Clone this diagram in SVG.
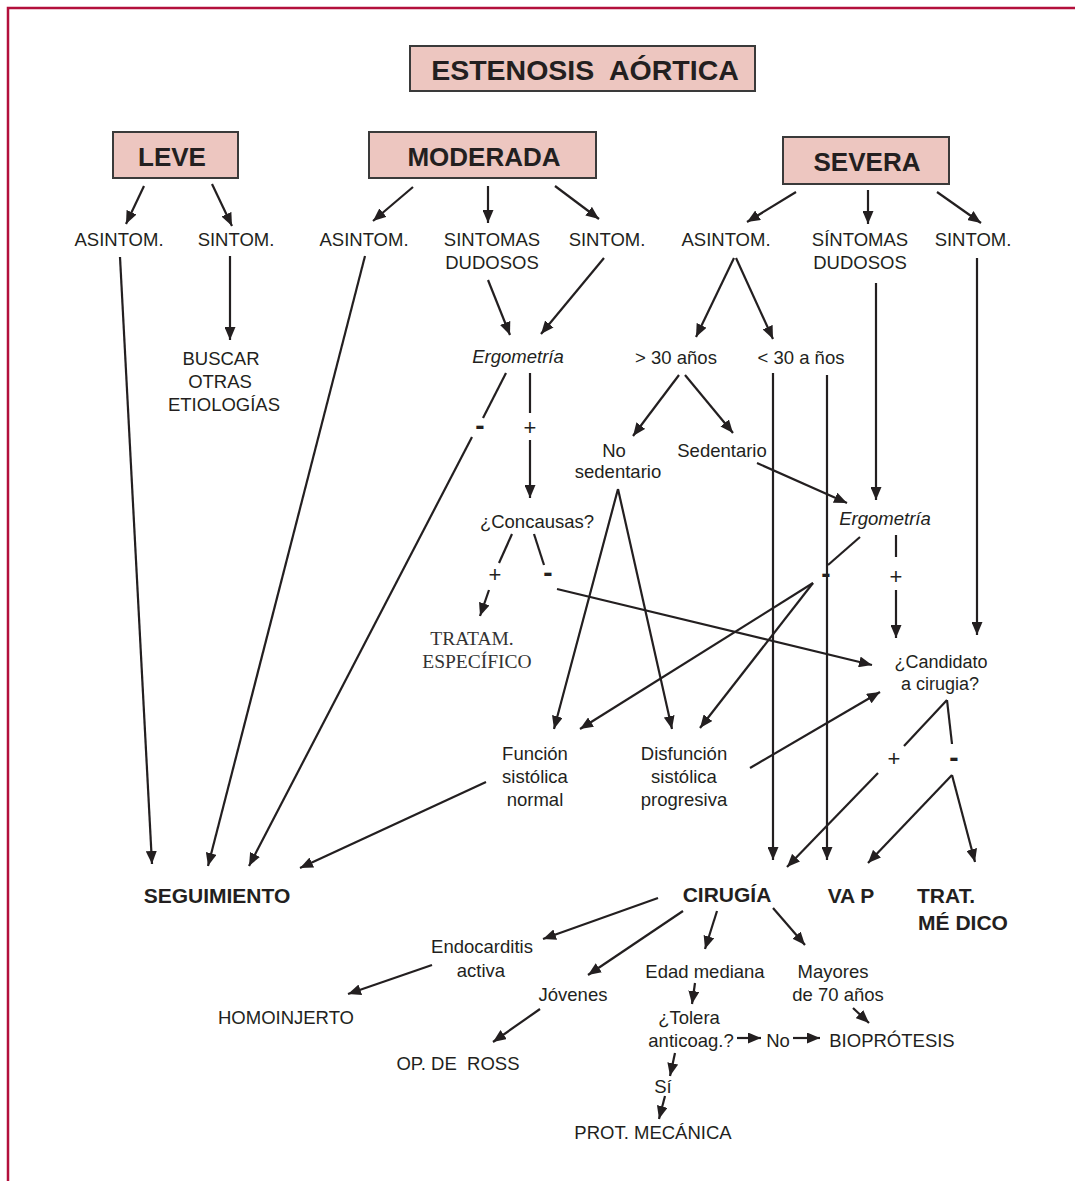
<svg xmlns="http://www.w3.org/2000/svg" width="1075" height="1181" viewBox="0 0 1075 1181">
<defs>
<marker id="ah" viewBox="0 0 13 11" refX="13" refY="5.5" markerWidth="13" markerHeight="11" markerUnits="userSpaceOnUse" orient="auto">
<path d="M0,0 L13,5.5 L0,11 z" fill="#231f20"/>
</marker>
<style>
text{font-family:"Liberation Sans",Arial,Helvetica,sans-serif;fill:#231f20;text-anchor:middle;white-space:pre}
.t{font-size:18.5px}
.s{font-size:18.5px}
.c{font-size:18px}
.b{font-weight:bold;font-size:21px}
.h{font-weight:bold;font-size:26px}
.i{font-style:italic;font-size:18.5px}
.sign{font-size:22px}
.minus{font-size:28px;font-weight:bold}
.serif{font-family:"Liberation Serif","Times New Roman",serif;font-size:19.5px;fill:#333}
.box{fill:#edc6c0;stroke:#3a3a3a;stroke-width:2}
#connectors line{stroke:#231f20;stroke-width:2.2}
#connectors line.a{marker-end:url(#ah)}
</style>
</defs>
<rect width="1075" height="1181" fill="#fff"/>
<path d="M8,1181 V8 H1075" fill="none" stroke="#b3103c" stroke-width="2.5"/>

<g id="connectors">
<line class="a" x1="144" y1="186" x2="126" y2="224"/>
<line class="a" x1="212" y1="184" x2="232" y2="226"/>
<line class="a" x1="413" y1="187" x2="373" y2="221"/>
<line class="a" x1="488" y1="186" x2="488" y2="223"/>
<line class="a" x1="555" y1="186" x2="599" y2="219"/>
<line class="a" x1="796" y1="192" x2="747" y2="222"/>
<line class="a" x1="868" y1="190" x2="868" y2="224"/>
<line class="a" x1="937" y1="192" x2="981" y2="223"/>
<line class="a" x1="120" y1="257" x2="152" y2="864"/>
<line class="a" x1="230" y1="256" x2="230" y2="340"/>
<line class="a" x1="365" y1="256" x2="208" y2="866"/>
<line class="a" x1="488" y1="280" x2="510" y2="335"/>
<line class="a" x1="604" y1="258" x2="541" y2="334"/>
<line x1="506" y1="373" x2="483" y2="418"/>
<line class="a" x1="472" y1="437" x2="249" y2="866"/>
<line x1="530" y1="373" x2="530" y2="413"/>
<line class="a" x1="530" y1="440" x2="530" y2="498"/>
<line x1="512" y1="534" x2="499" y2="563"/>
<line x1="534" y1="534" x2="544" y2="565"/>
<line class="a" x1="489" y1="590" x2="480" y2="616"/>
<line class="a" x1="557" y1="589" x2="872" y2="665"/>
<line class="a" x1="734" y1="258" x2="696" y2="337"/>
<line class="a" x1="736" y1="258" x2="773" y2="339"/>
<line class="a" x1="679" y1="375" x2="633" y2="436"/>
<line class="a" x1="685" y1="375" x2="733" y2="433"/>
<line class="a" x1="757" y1="463" x2="847" y2="503"/>
<line class="a" x1="876" y1="283" x2="876" y2="500"/>
<line class="a" x1="977" y1="258" x2="977" y2="635"/>
<line class="a" x1="773" y1="373" x2="773" y2="860"/>
<line class="a" x1="827" y1="375" x2="827" y2="860"/>
<line class="a" x1="618" y1="489" x2="554" y2="729"/>
<line class="a" x1="618" y1="489" x2="672" y2="729"/>
<line x1="860" y1="537" x2="828" y2="565"/>
<line x1="896" y1="535" x2="896" y2="557"/>
<line class="a" x1="813" y1="583" x2="580" y2="729"/>
<line class="a" x1="813" y1="583" x2="700" y2="728"/>
<line class="a" x1="896" y1="590" x2="896" y2="638"/>
<line class="a" x1="750" y1="768" x2="880" y2="692"/>
<line x1="947" y1="700" x2="904" y2="746"/>
<line x1="947" y1="700" x2="952" y2="744"/>
<line class="a" x1="878" y1="773" x2="787" y2="867"/>
<line class="a" x1="952" y1="775" x2="868" y2="863"/>
<line class="a" x1="952" y1="775" x2="975" y2="862"/>
<line class="a" x1="486" y1="782" x2="300" y2="868"/>
<line class="a" x1="658" y1="898" x2="543" y2="939"/>
<line class="a" x1="683" y1="911" x2="588" y2="975"/>
<line class="a" x1="717" y1="911" x2="705" y2="949"/>
<line class="a" x1="773" y1="908" x2="805" y2="945"/>
<line class="a" x1="432" y1="965" x2="348" y2="994"/>
<line class="a" x1="540" y1="1009" x2="493" y2="1042"/>
<line class="a" x1="695" y1="983" x2="692" y2="1004"/>
<line class="a" x1="737" y1="1038" x2="761" y2="1038"/>
<line class="a" x1="793" y1="1038" x2="820" y2="1038"/>
<line class="a" x1="853" y1="1008" x2="869" y2="1023"/>
<line class="a" x1="675" y1="1053" x2="670" y2="1076"/>
<line class="a" x1="665" y1="1096" x2="659" y2="1119"/>
</g>

<g id="title"><rect class="box" x="410" y="46" width="345" height="45"/><text x="585" y="80" style="font-weight:bold;font-size:28.5px">ESTENOSIS  AÓRTICA</text></g>
<g id="leve"><rect class="box" x="113" y="132" width="125" height="46"/><text class="h" x="172" y="166">LEVE</text></g>
<g id="moderada"><rect class="box" x="369" y="132" width="227" height="46"/><text class="h" x="484" y="166">MODERADA</text></g>
<g id="severa"><rect class="box" x="783" y="137" width="166" height="47"/><text class="h" x="867" y="171">SEVERA</text></g>

<g id="leve-asintom"><text class="t" x="119" y="246">ASINTOM.</text></g>
<g id="leve-sintom"><text class="t" x="236" y="246">SINTOM.</text></g>
<g id="mod-asintom"><text class="t" x="364" y="246">ASINTOM.</text></g>
<g id="mod-dudosos"><text class="t" x="492" y="246">SINTOMAS</text><text class="t" x="492" y="269">DUDOSOS</text></g>
<g id="mod-sintom"><text class="t" x="607" y="246">SINTOM.</text></g>
<g id="sev-asintom"><text class="t" x="726" y="246">ASINTOM.</text></g>
<g id="sev-dudosos"><text class="t" x="860" y="246">SÍNTOMAS</text><text class="t" x="860" y="269">DUDOSOS</text></g>
<g id="sev-sintom"><text class="t" x="973" y="246">SINTOM.</text></g>

<g id="buscar"><text class="t" x="221" y="365">BUSCAR</text><text class="t" x="220" y="388">OTRAS</text><text class="t" x="224" y="411">ETIOLOGÍAS</text></g>

<g id="ergo-mod"><text class="i" x="518" y="363">Ergometría</text></g>
<g id="ergo-mod-signs"><text class="minus" x="480" y="435">-</text><text class="sign" x="530" y="435">+</text></g>
<g id="concausas"><text class="t" x="537" y="528">¿Concausas?</text></g>
<g id="concausas-signs"><text class="sign" x="495" y="582">+</text><text class="minus" x="548" y="582">-</text></g>
<g id="tratam"><text class="serif" x="472" y="645">TRATAM.</text><text class="serif" x="477" y="668">ESPECÍFICO</text></g>

<g id="mayor30"><text class="t" x="676" y="364">&gt; 30 años</text></g>
<g id="menor30"><text class="t" x="801" y="364">&lt; 30 a ños</text></g>
<g id="nosedentario"><text class="t" x="614" y="457">No</text><text class="t" x="618" y="478">sedentario</text></g>
<g id="sedentario"><text class="t" x="722" y="457">Sedentario</text></g>
<g id="ergo-sev"><text class="i" x="885" y="525">Ergometría</text></g>
<g id="ergo-sev-signs"><text class="minus" x="826" y="583">-</text><text class="sign" x="896" y="584">+</text></g>
<g id="candidato"><text class="c" x="941" y="668">¿Candidato</text><text class="c" x="940" y="690">a cirugia?</text></g>
<g id="candidato-signs"><text class="sign" x="894" y="766">+</text><text class="minus" x="954" y="767">-</text></g>

<g id="funcion"><text class="t" x="535" y="760">Función</text><text class="t" x="535" y="783">sistólica</text><text class="t" x="535" y="806">normal</text></g>
<g id="disfuncion"><text class="t" x="684" y="760">Disfunción</text><text class="t" x="684" y="783">sistólica</text><text class="t" x="684" y="806">progresiva</text></g>

<g id="seguimiento"><text class="b" x="217" y="903">SEGUIMIENTO</text></g>
<g id="cirugia"><text class="b" x="727" y="902">CIRUGÍA</text></g>
<g id="vap"><text class="b" x="851" y="903">VA P</text></g>
<g id="tratmedico"><text class="b" x="946" y="903">TRAT.</text><text class="b" x="963" y="930">MÉ DICO</text></g>

<g id="endocarditis"><text class="s" x="482" y="953">Endocarditis</text><text class="s" x="481" y="977">activa</text></g>
<g id="homoinjerto"><text class="s" x="286" y="1024">HOMOINJERTO</text></g>
<g id="jovenes"><text class="s" x="573" y="1001">Jóvenes</text></g>
<g id="ross"><text class="s" x="458" y="1070">OP. DE  ROSS</text></g>
<g id="edad"><text class="s" x="705" y="978">Edad mediana</text></g>
<g id="tolera"><text class="s" x="689" y="1024">¿Tolera</text><text class="s" x="691" y="1047">anticoag.?</text></g>
<g id="no"><text class="s" x="778" y="1047">No</text></g>
<g id="bioprotesis"><text class="s" x="892" y="1047">BIOPRÓTESIS</text></g>
<g id="mayores"><text class="s" x="833" y="978">Mayores</text><text class="s" x="838" y="1001">de 70 años</text></g>
<g id="si"><text class="s" x="663" y="1093">Sí</text></g>
<g id="protmecanica"><text class="s" x="653" y="1139">PROT. MECÁNICA</text></g>
</svg>
